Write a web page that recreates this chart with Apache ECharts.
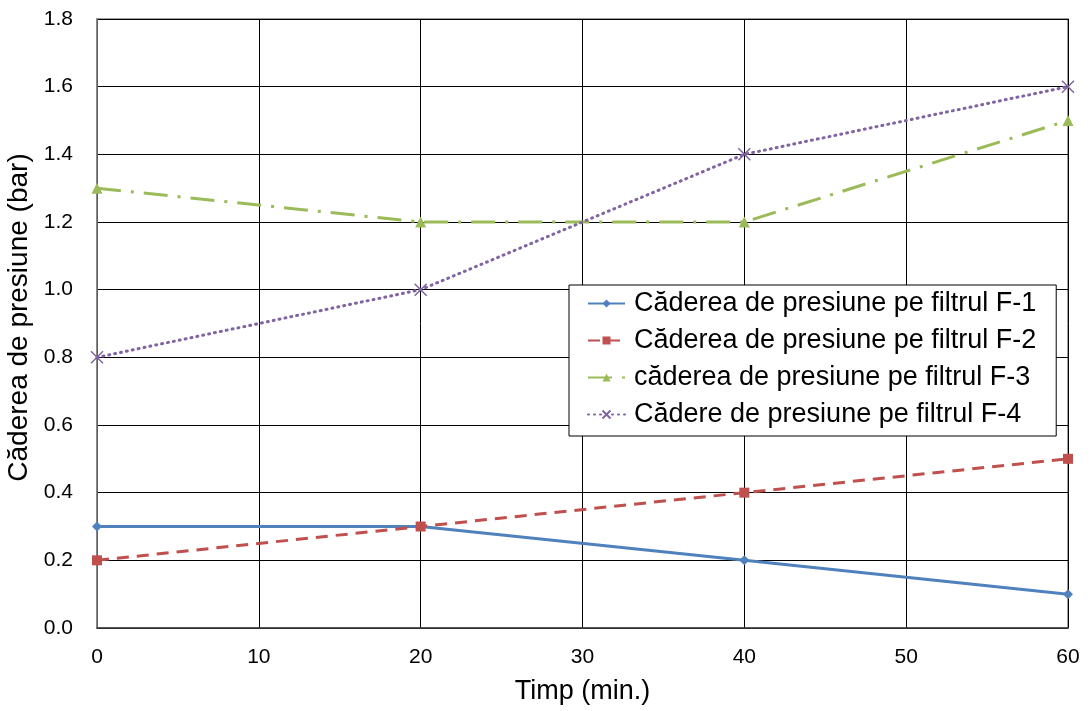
<!DOCTYPE html>
<html>
<head>
<meta charset="utf-8">
<script src="https://cdn.jsdelivr.net/npm/echarts@6/dist/echarts.min.js"></script>
<style>
  html, body { margin: 0; padding: 0; background: #fff; }
  #chart { width: 1090px; height: 711px; }
</style>
</head>
<body>
<div id="chart"></div>
<script>
// Time in minutes and pressure drop (bar) for each filter
const timeMin = [0, 20, 40, 60];
const f1 = [0.3, 0.3, 0.2, 0.1];
const f2 = [0.2, 0.3, 0.4, 0.5];
const f3 = [1.3, 1.2, 1.2, 1.5];
const f4 = [0.8, 1.0, 1.4, 1.6];
const seriesNames = [
  'Căderea de presiune pe filtrul F-1',
  'Căderea de presiune pe filtrul F-2',
  'căderea de presiune pe filtrul F-3',
  'Cădere de presiune pe filtrul F-4'
];

const pairs = (ys) => timeMin.map((x, i) => [x, ys[i]]);
const FONT = '"Liberation Sans", Arial, sans-serif';

const chart = echarts.init(document.getElementById('chart'));
chart.setOption({
  animation: false,
  backgroundColor: '#fff',
  textStyle: { fontFamily: FONT },
  grid: {
    left: 97, top: 19, right: 22, bottom: 83,
    containLabel: false, outerBoundsMode: 'none',
    show: true, borderColor: '#808080', borderWidth: 1.5
  },
  xAxis: {
    type: 'value', min: 0, max: 60, interval: 10,
    name: 'Timp (min.)', nameLocation: 'middle', nameGap: 50,
    nameTextStyle: { fontSize: 27, color: '#000', fontFamily: FONT },
    axisLine: { show: true, lineStyle: { color: '#404040', width: 1.5 } },
    axisTick: { show: false },
    axisLabel: { fontSize: 21, color: '#000', margin: 19, fontFamily: FONT },
    splitLine: { show: true, lineStyle: { color: '#000', width: 1 } }
  },
  yAxis: {
    type: 'value', min: 0, max: 1.8, interval: 0.2,
    name: 'Căderea de presiune (bar)', nameLocation: 'middle', nameGap: 52,
    nameTextStyle: { fontSize: 28, color: '#000', fontFamily: FONT, padding: [0, 0, 0, 12] },
    axisLine: { show: true, lineStyle: { color: '#808080', width: 1.5 } },
    axisTick: { show: false },
    axisLabel: { fontSize: 21, color: '#000', margin: 24, fontFamily: FONT,
      formatter: (v) => v.toFixed(1) },
    splitLine: { show: true, lineStyle: { color: '#000', width: 1 } }
  },
  legend: {
    orient: 'vertical',
    left: 569, top: 285,
    backgroundColor: '#fff',
    borderColor: '#000', borderWidth: 1,
    padding: [5, 20, 8, 18],
    itemGap: 10,
    itemWidth: 37, itemHeight: 10,
    textStyle: { fontSize: 27, lineHeight: 26, color: '#000', fontFamily: FONT, padding: [0, 0, 0, 4] },
    data: seriesNames
  },
  series: [
    {
      name: seriesNames[0], type: 'line', data: pairs(f1),
      symbol: 'diamond', symbolSize: 10,
      lineStyle: { color: '#4F81BD', width: 3, type: 'solid' },
      itemStyle: { color: '#4F81BD' }
    },
    {
      name: seriesNames[1], type: 'line', data: pairs(f2),
      symbol: 'rect', symbolSize: 10,
      lineStyle: { color: '#C0504D', width: 3, type: [12, 8] },
      itemStyle: { color: '#C0504D' }
    },
    {
      name: seriesNames[2], type: 'line', data: pairs(f3),
      symbol: 'triangle', symbolSize: 11,
      lineStyle: { color: '#9BBB59', width: 3, type: [24, 10, 3, 10] },
      itemStyle: { color: '#9BBB59' }
    },
    {
      name: seriesNames[3], type: 'line', data: pairs(f4),
      symbol: 'path://M0,0L10,10M10,0L0,10', symbolSize: 12,
      lineStyle: { color: '#8064A2', width: 3, type: [1, 5], cap: 'round' },
      itemStyle: { color: 'none', borderColor: '#8064A2', borderWidth: 1.5 }
    }
  ]
});
</script>
</body>
</html>
